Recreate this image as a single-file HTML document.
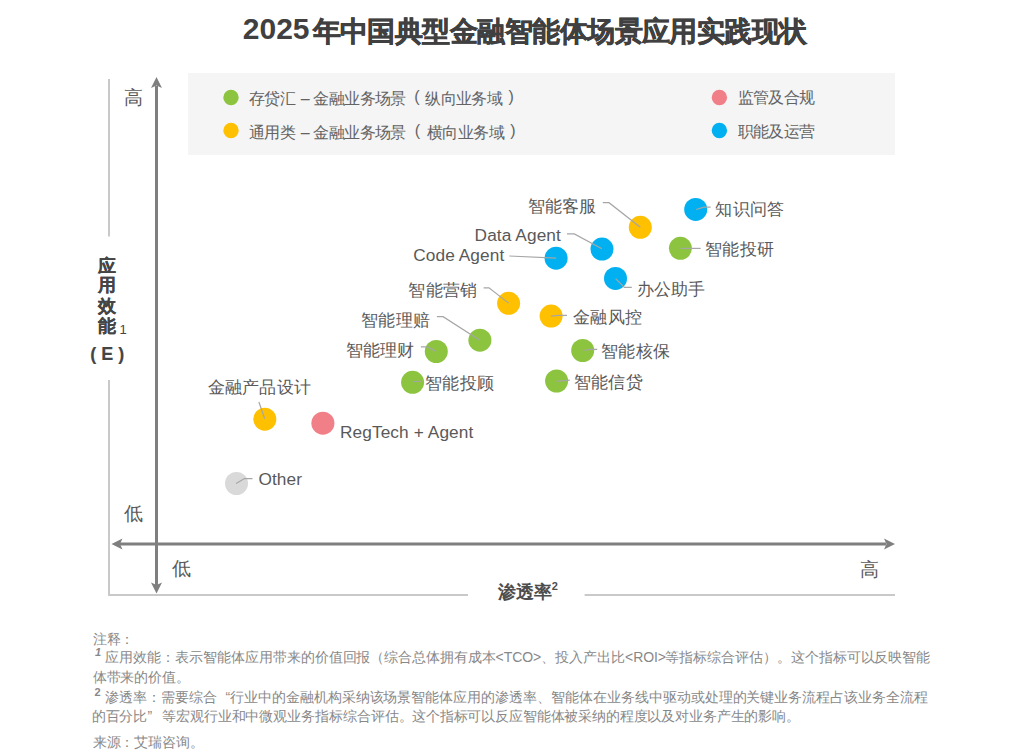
<!DOCTYPE html>
<html><head><meta charset="utf-8"><style>
html,body{margin:0;padding:0;background:#fff;width:1024px;height:753px;overflow:hidden}
body{position:relative;font-family:"Liberation Sans",sans-serif}
.t{position:absolute;white-space:nowrap;line-height:1}
svg{position:absolute;left:0;top:0}
sup{font-size:60%;vertical-align:top;position:relative}
</style></head><body>
<svg width="1024" height="753" viewBox="0 0 1024 753">
<rect x="188" y="73" width="707" height="82" fill="#f5f5f5"/>
<circle cx="231" cy="97.5" r="7.7" fill="#8cc43f"/>
<circle cx="231" cy="130.5" r="7.7" fill="#ffc000"/>
<circle cx="719.4" cy="97.5" r="7.7" fill="#f07f87"/>
<circle cx="719.4" cy="130.5" r="7.7" fill="#00b0f0"/>
<path d="M109 79 V236.5 M109 380 V595 H468 M584.6 595 H895" stroke="#c9c9c9" stroke-width="2" fill="none"/>
<path d="M156.5 86 V585 M120 544 H886" stroke="#7f7f7f" stroke-width="3" fill="none"/>
<path d="M156.5 77 L162 88 L156.5 85.5 L151 88 Z" fill="#7f7f7f"/>
<path d="M156.5 593.5 L162 582.5 L156.5 585 L151 582.5 Z" fill="#7f7f7f"/>
<path d="M111.5 544 L122.5 538.5 L120 544 L122.5 549.5 Z" fill="#7f7f7f"/>
<path d="M895 544 L884 538.5 L886.5 544 L884 549.5 Z" fill="#7f7f7f"/>
<circle cx="640.3" cy="227.3" r="11.5" fill="#ffc000"/>
<circle cx="695.7" cy="209.4" r="11.5" fill="#00b0f0"/>
<circle cx="680.4" cy="248.3" r="11.5" fill="#8cc43f"/>
<circle cx="602.0" cy="249.1" r="11.5" fill="#00b0f0"/>
<circle cx="556.1" cy="258.2" r="11.5" fill="#00b0f0"/>
<circle cx="615.5" cy="278.4" r="11.5" fill="#00b0f0"/>
<circle cx="508.6" cy="303.3" r="11.5" fill="#ffc000"/>
<circle cx="551.1" cy="316.1" r="11.5" fill="#ffc000"/>
<circle cx="479.9" cy="340.2" r="11.5" fill="#8cc43f"/>
<circle cx="436.3" cy="351.5" r="11.5" fill="#8cc43f"/>
<circle cx="582.7" cy="350.5" r="11.5" fill="#8cc43f"/>
<circle cx="412.6" cy="382.3" r="11.5" fill="#8cc43f"/>
<circle cx="556.6" cy="381.0" r="11.5" fill="#8cc43f"/>
<circle cx="264.8" cy="419.2" r="11.5" fill="#ffc000"/>
<circle cx="322.9" cy="423.2" r="11.5" fill="#f07f87"/>
<circle cx="236.5" cy="483.5" r="11.5" fill="#d9d9d9"/>
<path d="M602.8 202.7 L609 202.7 L640.3 227.2" stroke="#a6a6a6" stroke-width="1.2" fill="none"/>
<path d="M696.2 209.5 L703.8 207.1 L710.6 207.1" stroke="#a6a6a6" stroke-width="1.2" fill="none"/>
<path d="M680.5 248.4 L700.7 248.4" stroke="#a6a6a6" stroke-width="1.2" fill="none"/>
<path d="M567 233.9 L574.3 233.9 L601.9 248.7" stroke="#a6a6a6" stroke-width="1.2" fill="none"/>
<path d="M509.3 256 L556.1 258.1" stroke="#a6a6a6" stroke-width="1.2" fill="none"/>
<path d="M615.6 278.6 L624.4 287.4 L631.8 287.4" stroke="#a6a6a6" stroke-width="1.2" fill="none"/>
<path d="M483.6 287.8 L489 287.8 L508.6 303.1" stroke="#a6a6a6" stroke-width="1.2" fill="none"/>
<path d="M551.1 316.1 L558.1 315.3 L567 315.3" stroke="#a6a6a6" stroke-width="1.2" fill="none"/>
<path d="M436.9 316.7 L443.1 316.7 L479.8 340.2" stroke="#a6a6a6" stroke-width="1.2" fill="none"/>
<path d="M420.9 346.9 L427.5 346.9 L436.1 351.4" stroke="#a6a6a6" stroke-width="1.2" fill="none"/>
<path d="M583.1 350.5 L590 349.4 L597.2 349.4" stroke="#a6a6a6" stroke-width="1.2" fill="none"/>
<path d="M412.7 381.6 L421.25 381.25" stroke="#a6a6a6" stroke-width="1.2" fill="none"/>
<path d="M556.6 381.4 L569.8 380.2" stroke="#a6a6a6" stroke-width="1.2" fill="none"/>
<path d="M258.9 402 L264.7 418.7" stroke="#a6a6a6" stroke-width="1.2" fill="none"/>
<path d="M236.1 483.5 L244.5 478.6 L252.5 478.6" stroke="#a6a6a6" stroke-width="1.2" fill="none"/>
</svg>
<div id="title" class="t" style="left:242.80px;top:14.20px;font-size:30px;color:#404040;font-weight:bold;letter-spacing:0px;">2025</div>
<div id="title2" class="t" style="left:312.60px;top:17.70px;font-size:28px;color:#404040;font-weight:bold;letter-spacing:-0.55px;-webkit-text-stroke:0.5px #404040;">年中国典型金融智能体场景应用实践现状</div>
<div id="lg3" class="t" style="left:737.60px;top:90.20px;font-size:16px;color:#636363;letter-spacing:-0.6px;">监管及合规</div>
<div id="lg4" class="t" style="left:737.60px;top:123.60px;font-size:16px;color:#636363;letter-spacing:-0.6px;">职能及运营</div>
<div id="hiy" class="t" style="left:124.20px;top:88.40px;font-size:19px;color:#595959;">高</div>
<div id="loy" class="t" style="left:124.00px;top:504.40px;font-size:19px;color:#595959;">低</div>
<div id="lox" class="t" style="left:171.80px;top:559.40px;font-size:19px;color:#595959;">低</div>
<div id="hix" class="t" style="left:860.40px;top:560.40px;font-size:19px;color:#595959;">高</div>
<div id="y1" class="t" style="left:97.80px;top:257.40px;font-size:18px;color:#454545;font-weight:bold;-webkit-text-stroke:0.15px #454545;">应</div>
<div id="y2" class="t" style="left:97.80px;top:275.80px;font-size:18px;color:#454545;font-weight:bold;-webkit-text-stroke:0.15px #454545;">用</div>
<div id="y3" class="t" style="left:97.80px;top:297.40px;font-size:18px;color:#454545;font-weight:bold;-webkit-text-stroke:0.15px #454545;">效</div>
<div id="y4" class="t" style="left:97.80px;top:317.40px;font-size:18px;color:#454545;font-weight:bold;-webkit-text-stroke:0.15px #454545;">能</div>
<div id="y5" class="t" style="left:119.40px;top:322.60px;font-size:13px;color:#454545;">1</div>
<div id="y6" class="t" style="left:90.20px;top:345.00px;font-size:18px;color:#454545;font-weight:bold;-webkit-text-stroke:0.15px #454545;">( E )</div>
<div id="xl" class="t" style="left:497.60px;top:583.00px;font-size:18px;color:#4d4d4d;font-weight:bold;">渗透率</div>
<div id="xl2" class="t" style="left:551.80px;top:581.00px;font-size:11px;color:#4d4d4d;font-weight:bold;">2</div>
<div id="L1" class="t" style="left:527.60px;top:198.00px;font-size:17.25px;color:#595959;letter-spacing:0.25px;">智能客服</div>
<div id="L2" class="t" style="left:715.40px;top:201.00px;font-size:17.25px;color:#595959;letter-spacing:0.25px;">知识问答</div>
<div id="L3" class="t" style="left:705.00px;top:241.20px;font-size:17.25px;color:#595959;letter-spacing:0.25px;">智能投研</div>
<div id="L4" class="t" style="left:474.60px;top:226.80px;font-size:17.25px;color:#595959;letter-spacing:0.1px;">Data Agent</div>
<div id="L5" class="t" style="left:413.20px;top:247.40px;font-size:17.25px;color:#595959;letter-spacing:0.1px;">Code Agent</div>
<div id="L6" class="t" style="left:636.60px;top:281.20px;font-size:17.25px;color:#595959;letter-spacing:0.25px;">办公助手</div>
<div id="L7" class="t" style="left:408.40px;top:282.00px;font-size:17.25px;color:#595959;letter-spacing:0.25px;">智能营销</div>
<div id="L8" class="t" style="left:573.00px;top:309.40px;font-size:17.25px;color:#595959;letter-spacing:0.25px;">金融风控</div>
<div id="L9" class="t" style="left:361.20px;top:311.50px;font-size:17.25px;color:#595959;letter-spacing:0.25px;">智能理赔</div>
<div id="L10" class="t" style="left:345.60px;top:341.50px;font-size:17.25px;color:#595959;letter-spacing:0.25px;">智能理财</div>
<div id="L11" class="t" style="left:601.20px;top:342.60px;font-size:17.25px;color:#595959;letter-spacing:0.25px;">智能核保</div>
<div id="L12" class="t" style="left:425.20px;top:374.80px;font-size:17.25px;color:#595959;letter-spacing:0.25px;">智能投顾</div>
<div id="L13" class="t" style="left:573.80px;top:373.60px;font-size:17.25px;color:#595959;letter-spacing:0.25px;">智能信贷</div>
<div id="L14" class="t" style="left:207.60px;top:378.80px;font-size:17.25px;color:#595959;letter-spacing:0.25px;">金融产品设计</div>
<div id="L15" class="t" style="left:340.00px;top:424.00px;font-size:17.25px;color:#595959;letter-spacing:0.1px;">RegTech + Agent</div>
<div id="L16" class="t" style="left:258.40px;top:471.20px;font-size:17.25px;color:#595959;letter-spacing:0.1px;">Other</div>
<div id="lg1a" class="t" style="left:249.00px;top:91.00px;font-size:16px;color:#636363;letter-spacing:-0.6px;">存贷汇</div>
<div id="lg1b" class="t" style="left:300.80px;top:91.00px;font-size:16px;color:#636363;letter-spacing:0px;">–</div>
<div id="lg1c" class="t" style="left:313.40px;top:91.00px;font-size:16px;color:#636363;letter-spacing:-0.6px;">金融业务场景</div>
<div id="lg1d" class="t" style="left:414.20px;top:89.40px;font-size:16px;color:#636363;letter-spacing:0px;">(</div>
<div id="lg1e" class="t" style="left:425.20px;top:91.00px;font-size:16px;color:#636363;letter-spacing:-0.6px;">纵向业务域</div>
<div id="lg1f" class="t" style="left:508.40px;top:89.40px;font-size:16px;color:#636363;letter-spacing:0px;">)</div>
<div id="lg2a" class="t" style="left:249.00px;top:125.00px;font-size:16px;color:#636363;letter-spacing:-0.6px;">通用类</div>
<div id="lg2b" class="t" style="left:300.80px;top:125.00px;font-size:16px;color:#636363;letter-spacing:0px;">–</div>
<div id="lg2c" class="t" style="left:313.40px;top:125.00px;font-size:16px;color:#636363;letter-spacing:-0.6px;">金融业务场景</div>
<div id="lg2d" class="t" style="left:414.80px;top:123.40px;font-size:16px;color:#636363;letter-spacing:0px;">(</div>
<div id="lg2e" class="t" style="left:427.00px;top:125.00px;font-size:16px;color:#636363;letter-spacing:-0.6px;">横向业务域</div>
<div id="lg2f" class="t" style="left:510.20px;top:123.40px;font-size:16px;color:#636363;letter-spacing:0px;">)</div>
<div id="n0" class="t" style="left:92.60px;top:631.80px;font-size:14px;color:#888888;letter-spacing:-0.05px;">注释：</div>
<div id="n1s" class="t" style="left:95.00px;top:647.00px;font-size:11px;color:#888888;letter-spacing:-0.05px;"><b><i>1</i></b></div>
<div id="n1a" class="t" style="left:105.40px;top:650.00px;font-size:14px;color:#888888;letter-spacing:-0.05px;">应用效能：表示智能体应用带来的价值回报（综合总体拥有成本</div>
<div id="n1b" class="t" style="left:495.60px;top:650.00px;font-size:14px;color:#888888;letter-spacing:-0.05px;">&lt;TCO&gt;、</div>
<div id="n1c" class="t" style="left:555.20px;top:650.00px;font-size:14px;color:#888888;letter-spacing:-0.05px;">投入产出比</div>
<div id="n1d" class="t" style="left:625.00px;top:650.00px;font-size:14px;color:#888888;letter-spacing:-0.05px;">&lt;ROI&gt;</div>
<div id="n1e" class="t" style="left:665.00px;top:650.00px;font-size:14px;color:#888888;letter-spacing:-0.05px;">等指标综合评估）</div>
<div id="n1f" class="t" style="left:777.00px;top:650.00px;font-size:14px;color:#888888;letter-spacing:-0.05px;">。</div>
<div id="n1g" class="t" style="left:790.80px;top:650.00px;font-size:14px;color:#888888;letter-spacing:-0.05px;">这个指标可以反映智能</div>
<div id="n2" class="t" style="left:92.60px;top:669.60px;font-size:14px;color:#888888;letter-spacing:-0.05px;">体带来的价值。</div>
<div id="n3s" class="t" style="left:94.60px;top:687.40px;font-size:11px;color:#888888;letter-spacing:-0.05px;"><b>2</b></div>
<div id="n3a" class="t" style="left:105.40px;top:690.00px;font-size:14px;color:#888888;letter-spacing:-0.05px;">渗透率：需要综合</div>
<div id="n3b" class="t" style="left:225.40px;top:690.00px;font-size:14px;color:#888888;letter-spacing:-0.05px;">“行业中的金融机构采纳该场景智能体应用的渗透率、</div>
<div id="n3c" class="t" style="left:551.20px;top:690.00px;font-size:14px;color:#888888;letter-spacing:-0.05px;">智能体在业务线中驱动或处理的关键业务流程占该业务全流程</div>
<div id="n4a" class="t" style="left:91.60px;top:709.20px;font-size:14px;color:#888888;letter-spacing:-0.05px;">的百分比”</div>
<div id="n4b" class="t" style="left:161.80px;top:709.20px;font-size:14px;color:#888888;letter-spacing:-0.05px;">等宏观行业和中微观业务指标综合评估。</div>
<div id="n4c" class="t" style="left:412.00px;top:709.20px;font-size:14px;color:#888888;letter-spacing:-0.15px;">这个指标可以反应智能体被采纳的程度以及对业务产生的影响。</div>
<div id="n5" class="t" style="left:92.60px;top:735.00px;font-size:14px;color:#888888;letter-spacing:-0.05px;">来源：艾瑞咨询。</div>
</body></html>
